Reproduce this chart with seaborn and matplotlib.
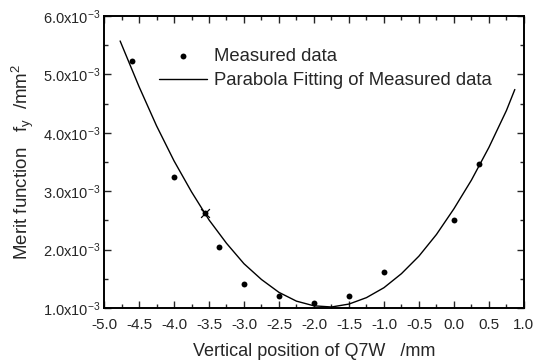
import numpy as np
import pandas as pd
import matplotlib
matplotlib.use('Agg')
import matplotlib.pyplot as plt
import seaborn as sns
from matplotlib.ticker import MultipleLocator, FixedLocator, FixedFormatter

# measured merit function values (x in mm, y in 1e-3 mm^2)
meas_x = [-4.6, -4.0, -3.55, -3.35, -3.0, -2.5, -2.0, -1.5, -1.0, 0.0, 0.36]
meas_y = [5.22, 3.25, 2.62, 2.05, 1.41, 1.20, 1.08, 1.21, 1.61, 2.50, 3.47]

# marked point (cross)
mark_x = [-3.55]
mark_y = [2.62]

# parabola fitting curve
fit_x = [-4.77, -4.5, -4.25, -4.0, -3.75, -3.5, -3.25, -3.0, -2.75, -2.5, -2.25,
         -2.0, -1.75, -1.5, -1.25, -1.0, -0.75, -0.5, -0.25, 0.0, 0.25, 0.5, 0.75, 0.87]
fit_y = [5.57, 4.79, 4.12, 3.52, 2.99, 2.51, 2.11, 1.76, 1.49, 1.27, 1.12,
         1.04, 1.02, 1.07, 1.18, 1.35, 1.59, 1.89, 2.26, 2.70, 3.19, 3.75, 4.38, 4.74]

y_ticks = [1.0, 2.0, 3.0, 4.0, 5.0, 6.0]
y_tick_labels = [r'$%.1f\mathrm{x}10^{-3}$' % v for v in y_ticks]
x_ticks = [-5.0, -4.5, -4.0, -3.5, -3.0, -2.5, -2.0, -1.5, -1.0, -0.5, 0.0, 0.5, 1.0]

sns.set_style('ticks')
plt.rcParams['font.family'] = ['Liberation Sans', 'DejaVu Sans']
plt.rcParams['mathtext.fontset'] = 'custom'
plt.rcParams['mathtext.rm'] = 'Liberation Sans'
plt.rcParams['mathtext.it'] = 'Liberation Sans:italic'

fig = plt.figure(figsize=(5.39, 3.6), dpi=100)
ax = fig.add_axes([0.193, 0.144, 0.779, 0.812])

meas = pd.DataFrame({'x': meas_x, 'y': meas_y})
fit = pd.DataFrame({'x': fit_x, 'y': fit_y})

sns.scatterplot(data=meas, x='x', y='y', ax=ax, color='black', s=18,
                edgecolor='black', linewidth=0, label='Measured data', zorder=3)
sns.lineplot(data=fit, x='x', y='y', ax=ax, color='black', linewidth=1.0,
             sort=False, label='Parabola Fitting of Measured data')
ax.scatter(mark_x, mark_y, marker='x', color='black', s=40, linewidths=0.9, zorder=4)

ax.set_xlim(-5.0, 1.0)
ax.set_ylim(1.0, 6.0)
ax.xaxis.set_major_locator(FixedLocator(x_ticks))
ax.xaxis.set_minor_locator(MultipleLocator(0.25))
ax.yaxis.set_major_locator(FixedLocator(y_ticks))
ax.yaxis.set_major_formatter(FixedFormatter(y_tick_labels))
ax.yaxis.set_minor_locator(MultipleLocator(0.5))
ax.set_xticklabels(['%.1f' % v for v in x_ticks])

ax.tick_params(which='both', direction='in', top=True, right=True, width=1.0)
ax.tick_params(which='major', length=5)
ax.tick_params(which='minor', length=3)
ax.tick_params(axis='x', labelsize=11, pad=7)
ax.tick_params(axis='y', labelsize=10.5, pad=3)
for sp in ax.spines.values():
    sp.set_linewidth(1.4)
    sp.set_color('black')

ax.set_xlabel('Vertical position of Q7W   /mm', fontsize=13, labelpad=8)
ax.set_ylabel(r'Merit function   f$_\mathrm{y}$  /mm$^\mathrm{2}$', fontsize=13.5, labelpad=5)

ax.legend(loc='upper left', bbox_to_anchor=(0.10, 0.935), frameon=False,
          fontsize=13.3, handlelength=2.6, handletextpad=0.4, labelspacing=0.4,
          borderpad=0.2)

fig.savefig('out.png', dpi=100)
